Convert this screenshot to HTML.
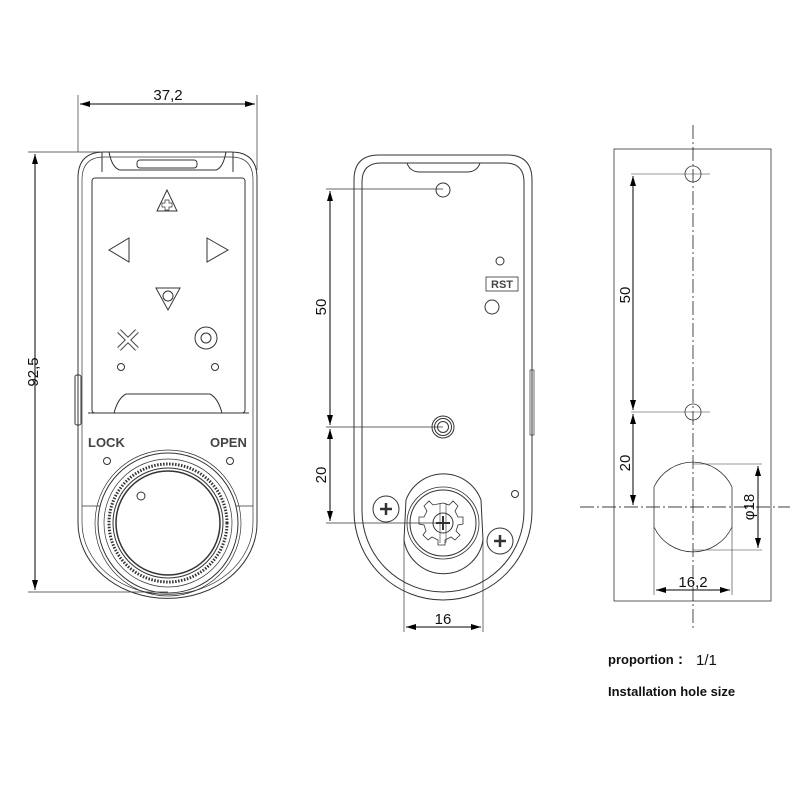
<!DOCTYPE html>
<html><head><style>body{margin:0;background:#fff}svg{display:block}</style></head><body>
<svg width="800" height="800" viewBox="0 0 800 800" xmlns="http://www.w3.org/2000/svg" font-family="Liberation Sans, sans-serif">
<defs>
<marker id="a" markerWidth="10" markerHeight="6" refX="10" refY="3" orient="auto-start-reverse" markerUnits="userSpaceOnUse"><path d="M0,0L10,3L0,6z" fill="#000"/></marker>
</defs>
<g fill="none" stroke="#333" stroke-width="1">
<!-- LEFT DEVICE -->
<line x1="78" y1="95" x2="78" y2="152" stroke-width="0.7"/>
<line x1="257" y1="95" x2="257" y2="170" stroke-width="0.7"/>
<line x1="80" y1="104" x2="255" y2="104" stroke="#000" marker-start="url(#a)" marker-end="url(#a)"/>
<line x1="28" y1="152" x2="100" y2="152" stroke-width="0.7"/>
<line x1="28" y1="592" x2="168" y2="592" stroke-width="0.7"/>
<line x1="35" y1="154" x2="35" y2="590" stroke="#000" marker-start="url(#a)" marker-end="url(#a)"/>
<path d="M78,178 Q78,152 104,152 L231,152 Q257,152 257,178 L257,523 A89,75 0 0 1 78,523 Z"/>
<path d="M82,180 Q82,157 104,157 L231,157 Q253,157 253,180 L253,523 A85,71 0 0 1 82,523 Z" stroke-width="0.7"/>
<path d="M102,152 L102,172 M233,152 L233,172"/>
<path d="M109,152 Q112,168 120,170 L216,170 Q223,168 226,152"/>
<rect x="137" y="160" width="60" height="8" rx="3"/>
<rect x="92" y="178" width="153" height="235" rx="3"/>
<path d="M92,413 L114,413 Q118,398 126,394 L210,394 Q218,398 222,413 L245,413"/>
<line x1="88" y1="413" x2="249" y2="413"/>
<rect x="75" y="375" width="6" height="50" rx="2"/>
<!-- icons -->
<path d="M167,190 L157,211 L177,211 Z"/>
<path d="M165,200 h4 v3 h3 v4 h-3 v3 h-4 v-3 h-3 v-4 h3 z" stroke-width="0.7"/>
<path d="M129,238 L109,250 L129,262 Z"/>
<path d="M207,238 L228,250 L207,262 Z"/>
<path d="M156,288 L180,288 L168,310 Z"/>
<circle cx="168" cy="296" r="5"/>
<path d="M119,331 l18,18 M137,331 l-18,18 " stroke-width="5" stroke="#444"/>
<path d="M119,331 l18,18 M137,331 l-18,18 " stroke-width="3" stroke="#fff"/>
<circle cx="206" cy="338" r="11"/>
<circle cx="206" cy="338" r="5"/>
<circle cx="121" cy="367" r="3.5"/>
<circle cx="215" cy="367" r="3.5"/>
<circle cx="107" cy="461" r="3.5"/>
<circle cx="230" cy="461" r="3.5"/>
<circle cx="168" cy="523" r="73" stroke-width="0.7"/>
<circle cx="168" cy="523" r="70"/>
<circle cx="168" cy="523" r="64" stroke-width="0.7"/>
<circle cx="168" cy="523" r="59" stroke-width="3" stroke-dasharray="1.5 1.5"/>
<circle cx="168" cy="523" r="55"/>
<circle cx="168" cy="523" r="52" stroke-width="1.5"/>
<circle cx="141" cy="496" r="4"/>
<path d="M82,506 L100,506 M236,506 L253,506" stroke-width="0.7"/>
<!-- MIDDLE DEVICE -->
<path d="M354,180 Q354,155 379,155 L507,155 Q532,155 532,180 L532,511 A89,89 0 0 1 354,511 Z"/>
<path d="M362,182 Q362,163 381,163 L505,163 Q524,163 524,182 L524,511 A81,81 0 0 1 362,511 Z"/>
<path d="M407,163 Q410,172 420,172 L467,172 Q477,172 480,163"/>
<rect x="530" y="370" width="4" height="65" stroke-width="0.7"/>
<circle cx="443" cy="190" r="7"/>
<circle cx="500" cy="261" r="4"/>
<rect x="486" y="277" width="32" height="14" stroke-width="0.8"/>
<circle cx="492" cy="307" r="7"/>
<circle cx="443" cy="427" r="11"/><circle cx="443" cy="427" r="8.5"/><circle cx="443" cy="427" r="5.5"/>
<circle cx="515" cy="494" r="3.5"/>
<circle cx="386" cy="509" r="13"/>
<path d="M380,509 h12 M386,503 v12" stroke-width="2.5" stroke="#333"/>
<circle cx="500" cy="541" r="13"/>
<path d="M494,541 h12 M500,535 v12" stroke-width="2.5" stroke="#333"/>
<path d="M406,500 A40,40 0 0 1 481,500 L483,540 A40,40 0 0 1 404,540 Z"/>
<circle cx="443" cy="523" r="36" stroke-width="0.8"/>
<circle cx="443" cy="523" r="33"/>
<path d="M443,503 l6,2 4,-4 5,5 -3,5 3,6 5,0 0,7 -5,1 -2,6 4,4 -5,5 -4,-3 -6,3 0,5 -7,0 0,-5 -6,-3 -4,3 -5,-5 3,-4 -2,-6 -5,-1 0,-7 5,0 3,-6 -3,-5 5,-5 4,4 z" stroke-width="0.8"/>
<circle cx="443" cy="523" r="10"/>
<path d="M436,523 h14 M443,516 v14" stroke-width="2"/>
<line x1="440" y1="503" x2="440" y2="543" stroke-width="0.6"/>
<line x1="446" y1="503" x2="446" y2="543" stroke-width="0.6"/>
<line x1="404" y1="540" x2="404" y2="632" stroke-width="0.7"/>
<line x1="483" y1="540" x2="483" y2="632" stroke-width="0.7"/>
<line x1="406" y1="627" x2="481" y2="627" stroke="#000" marker-start="url(#a)" marker-end="url(#a)"/>
<line x1="326" y1="189" x2="443" y2="189" stroke-width="0.7"/>
<line x1="326" y1="427" x2="443" y2="427" stroke-width="0.7"/>
<line x1="326" y1="523" x2="443" y2="523" stroke-width="0.7"/>
<line x1="330" y1="191" x2="330" y2="425" stroke="#000" marker-start="url(#a)" marker-end="url(#a)"/>
<line x1="330" y1="429" x2="330" y2="521" stroke="#000" marker-start="url(#a)" marker-end="url(#a)"/>
<!-- RIGHT PANEL -->
<rect x="614" y="149" width="157" height="452" stroke-width="0.8"/>
<line x1="693" y1="125" x2="693" y2="630" stroke="#000" stroke-width="0.7" stroke-dasharray="14 3 2 3"/>
<line x1="580" y1="507" x2="790" y2="507" stroke="#000" stroke-width="0.7" stroke-dasharray="14 3 2 3"/>
<circle cx="693" cy="174" r="8" stroke-width="0.8"/>
<circle cx="693" cy="412" r="8" stroke-width="0.8"/>
<line x1="631" y1="174" x2="710" y2="174" stroke-width="0.6"/>
<line x1="631" y1="412" x2="710" y2="412" stroke-width="0.6"/>
<line x1="633" y1="176" x2="633" y2="410" stroke="#000" marker-start="url(#a)" marker-end="url(#a)"/>
<line x1="633" y1="414" x2="633" y2="505" stroke="#000" marker-start="url(#a)" marker-end="url(#a)"/>
<path d="M654,487 A43,43 0 0 1 732,487 L732,527 A43,43 0 0 1 654,527 Z" stroke-width="0.8"/>
<line x1="693" y1="464" x2="762" y2="464" stroke-width="0.6"/>
<line x1="693" y1="550" x2="762" y2="550" stroke-width="0.6"/>
<line x1="758" y1="466" x2="758" y2="548" stroke="#000" marker-start="url(#a)" marker-end="url(#a)"/>
<line x1="654" y1="527" x2="654" y2="595" stroke-width="0.6"/>
<line x1="732" y1="527" x2="732" y2="595" stroke-width="0.6"/>
<line x1="656" y1="590" x2="730" y2="590" stroke="#000" marker-start="url(#a)" marker-end="url(#a)"/>
</g>
<g fill="#111" font-size="15">
<text x="168" y="100" text-anchor="middle">37,2</text>
<text transform="translate(38,372) rotate(-90)" text-anchor="middle">92,5</text>
<text x="88" y="447" font-size="13" font-weight="bold" fill="#444">LOCK</text>
<text x="210" y="447" font-size="13" font-weight="bold" fill="#444">OPEN</text>
<text x="502" y="288" font-size="11" font-weight="bold" text-anchor="middle" fill="#444">RST</text>
<text transform="translate(326,307) rotate(-90)" text-anchor="middle">50</text>
<text transform="translate(326,475) rotate(-90)" text-anchor="middle">20</text>
<text x="443" y="624" text-anchor="middle">16</text>
<text transform="translate(630,295) rotate(-90)" text-anchor="middle">50</text>
<text transform="translate(630,463) rotate(-90)" text-anchor="middle">20</text>
<text transform="translate(754,507) rotate(-90)" text-anchor="middle">φ18</text>
<text x="693" y="587" text-anchor="middle">16,2</text>
<text x="608" y="664" font-size="13" font-weight="bold">proportion</text>
<text x="678" y="664" font-size="15" font-weight="bold">:</text>
<text x="696" y="665" font-size="15">1/1</text>
<text x="608" y="696" font-size="13" font-weight="bold">Installation hole size</text>
</g>
</svg>
</body></html>
